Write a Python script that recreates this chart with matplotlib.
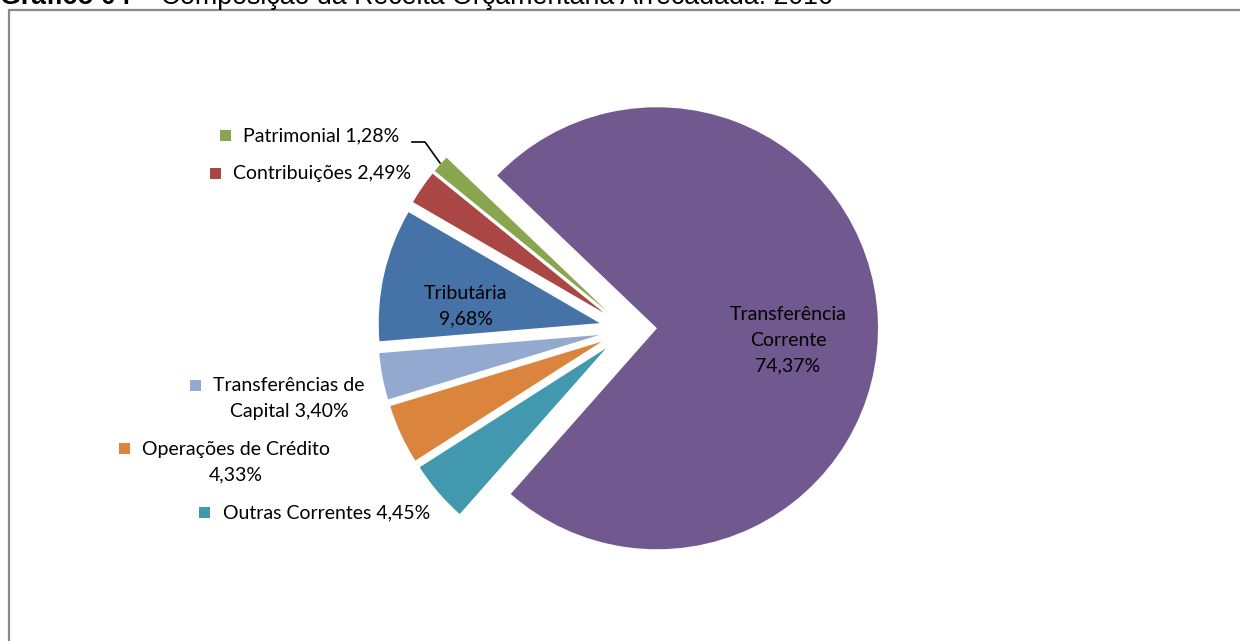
import matplotlib
matplotlib.use("Agg")
import matplotlib.pyplot as plt
from matplotlib.patches import Rectangle

# dados (%)
categorias = ["Transferência Corrente", "Outras Correntes", "Operações de Crédito",
              "Transferências de Capital", "Tributária", "Contribuições", "Patrimonial"]
valores = [74.37, 4.45, 4.33, 3.40, 9.68, 2.49, 1.28]
cores = ["#71588F", "#4198AF", "#DB843D", "#93A9CF", "#4572A7", "#AA4643", "#89A54E"]
titulo_bold = "Gráfico 04"
titulo_resto = " – Composição da Receita Orçamentária Arrecadada: 2016"

W, H = 1240, 641
fig = plt.figure(figsize=(W / 100, H / 100), dpi=100)
ax = fig.add_axes([0, 0, 1, 1])

def Y(y):
    return H - y

ax.pie(valores, colors=cores, startangle=136.3, counterclock=False,
       center=(628, Y(329.5)), radius=221, explode=[29] * len(valores),
       wedgeprops=dict(linewidth=0))
ax.set_xlim(0, W)
ax.set_ylim(0, H)
ax.set_aspect("auto")
ax.axis("off")

# moldura
ax.add_patch(Rectangle((9, -20), W + 20, Y(10) + 20, fill=False,
                       edgecolor="#8a8a8a", linewidth=1.6, clip_on=False))

fam = ["Lato", "DejaVu Sans"]
fs = 14
ls = 1.6

def fmt(v):
    return ("%.2f%%" % v).replace(".", ",")

# rotulos dentro
ax.text(788, Y(340), "Transferência\nCorrente\n" + fmt(valores[0]), ha="center", va="center",
        fontsize=fs, family=fam, linespacing=ls)
ax.text(466, Y(306), "Tributária\n" + fmt(valores[4]), ha="center", va="center",
        fontsize=fs, family=fam, linespacing=ls)

# rotulos externos com chave
def chave(x, y, c):
    ax.add_patch(Rectangle((x - 5.5, Y(y) - 5.5), 11, 11, color=c, linewidth=0))

chave(225, 135, cores[6])
ax.text(243, Y(136), "Patrimonial " + fmt(valores[6]), ha="left", va="center", fontsize=fs, family=fam)
chave(215, 173, cores[5])
ax.text(233, Y(173), "Contribuições " + fmt(valores[5]), ha="left", va="center", fontsize=fs, family=fam)
chave(195, 385, cores[3])
ax.text(289, Y(398.5), "Transferências de\nCapital " + fmt(valores[3]), ha="center", va="center",
        fontsize=fs, family=fam, linespacing=ls)
chave(124, 448, cores[2])
ax.text(236, Y(462), "Operações de Crédito\n" + fmt(valores[2]), ha="center", va="center",
        fontsize=fs, family=fam, linespacing=ls)
chave(204, 512, cores[1])
ax.text(223, Y(513), "Outras Correntes " + fmt(valores[1]), ha="left", va="center", fontsize=fs, family=fam)

# linha guia Patrimonial
ax.plot([412, 425, 440], [Y(142), Y(142), Y(163)], color="black", linewidth=1.2)

# titulo cortado no topo
r = fig.canvas.get_renderer()
t1 = ax.text(0, Y(4.5), titulo_bold, ha="left", va="baseline", fontsize=19.3,
             family="Liberation Sans", fontweight="bold", clip_on=False)
bb = t1.get_window_extent(renderer=r)
ax.text(bb.x1, Y(4.5), titulo_resto, ha="left", va="baseline", fontsize=19.3,
        family="Liberation Sans", clip_on=False)

fig.savefig("out.png", dpi=100)
